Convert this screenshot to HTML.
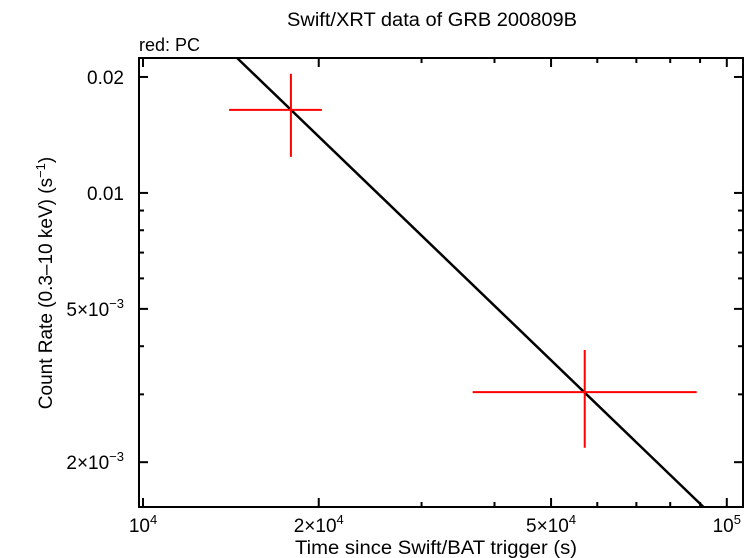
<!DOCTYPE html>
<html><head><meta charset="utf-8"><style>
body{margin:0;background:#fff;}
svg{display:block;font-family:"Liberation Sans",sans-serif;}
</style></head><body>
<svg id="c" width="756" height="558" viewBox="0 0 756 558" xmlns="http://www.w3.org/2000/svg">
<text x="432" y="26" font-size="19" text-anchor="middle" textLength="290" lengthAdjust="spacingAndGlyphs">Swift/XRT data of GRB 200809B</text>
<text x="139" y="51" font-size="18">red: PC</text>
<text x="436" y="554" font-size="19" text-anchor="middle" textLength="282" lengthAdjust="spacingAndGlyphs">Time since Swift/BAT trigger (s)</text>
<text transform="translate(52,283) rotate(-90)" font-size="19" text-anchor="middle">Count Rate (0.3–10 keV) (s<tspan dy="-7" font-size="13">−1</tspan><tspan dy="7">)</tspan></text>
<g id="ticks"></g>
<g id="marks"></g>
<rect x="139" y="58" width="604" height="449" fill="none" stroke="#000" stroke-width="2"/>
</svg>
<script>
const xMajor=[10000,20000,50000,100000];
const xMajorLabels=[["10","4"],["2×10","4"],["5×10","4"],["10","5"]];
const xMinor=[30000,40000,60000,70000,80000,90000];
const yMajor=[0.02,0.01,0.005,0.002];
const yMajorLabels=[["0.02",""],["0.01",""],["5×10","−3"],["2×10","−3"]];
const yMinor=[0.009,0.008,0.007,0.006,0.004,0.003];
const pcTime=[17920,57100];
const pcTimeLo=[14040,36700];
const pcTimeHi=[20250,88800];
const pcRate=[0.01643,0.00304];
const pcRateLo=[0.0124,0.00218];
const pcRateHi=[0.02038,0.00391];
const modelNorm=[0.0385];
const modelIndex=[1.459];
const X0=139,X1=743,Y0=58,Y1=507;
const xmin=9843,xmax=106600,ymin=0.00153,ymax=0.0224;
function sx(v){return X0+(Math.log10(v)-Math.log10(xmin))/(Math.log10(xmax)-Math.log10(xmin))*(X1-X0);}
function sy(v){return Y1-(Math.log10(v)-Math.log10(ymin))/(Math.log10(ymax)-Math.log10(ymin))*(Y1-Y0);}
const NS="http://www.w3.org/2000/svg";
const tg=document.getElementById('ticks'),mg=document.getElementById('marks');
function line(g,x1,y1,x2,y2,c,w,name){const l=document.createElementNS(NS,'line');
l.setAttribute('x1',x1);l.setAttribute('y1',y1);l.setAttribute('x2',x2);l.setAttribute('y2',y2);
l.setAttribute('stroke',c);l.setAttribute('stroke-width',w);


g.appendChild(l);return l;}
function label(x,y,parts,anchor,name){const t=document.createElementNS(NS,'text');
t.setAttribute('x',x);t.setAttribute('y',y);t.setAttribute('font-size','19');t.setAttribute('text-anchor',anchor);


t.appendChild(document.createTextNode(parts[0]));
if(parts[1]){const s=document.createElementNS(NS,'tspan');s.setAttribute('dy','-8');s.setAttribute('font-size','13');s.textContent=parts[1];t.appendChild(s);}
tg.appendChild(t);}
xMajor.forEach((v,i)=>{const x=sx(v);line(tg,x,Y1,x,Y1-9,'#000',2,'x-major-tick');line(tg,x,Y0,x,Y0+9,'#000',2,'x-major-tick-top');
label(x,532,xMajorLabels[i],'middle','x-tick-label');});
xMinor.forEach(v=>{const x=sx(v);line(tg,x,Y1,x,Y1-5,'#000',2,'x-minor-tick');line(tg,x,Y0,x,Y0+5,'#000',2,'x-minor-tick-top');});
yMajor.forEach((v,i)=>{const y=sy(v);line(tg,X0,y,X0+9,y,'#000',2,'y-major-tick');line(tg,X1,y,X1-9,y,'#000',2,'y-major-tick-right');
label(124,y+7,yMajorLabels[i],'end','y-tick-label');});
yMinor.forEach(v=>{const y=sy(v);line(tg,X0,y,X0+5,y,'#000',2,'y-minor-tick');line(tg,X1,y,X1-5,y,'#000',2,'y-minor-tick-right');});
(function(){const A=modelNorm[0],a=modelIndex[0];const f=t=>A*Math.pow(t/1e4,-a);
let t1=xmin,t2=xmax;const tTop=1e4*Math.pow(ymax/A,-1/a),tBot=1e4*Math.pow(ymin/A,-1/a);
t1=Math.max(t1,tTop);t2=Math.min(t2,tBot);
line(mg,sx(t1),sy(f(t1)),sx(t2),sy(f(t2)),'#000',2.5,'model-fit-line');})();
pcTime.forEach((t,i)=>{const x=sx(t),y=sy(pcRate[i]);
line(mg,sx(pcTimeLo[i]),y,sx(pcTimeHi[i]),y,'#f00',2,'pc-point-xerr');
line(mg,x,sy(pcRateLo[i]),x,sy(pcRateHi[i]),'#f00',2,'pc-point-yerr');});
</script>
</body></html>
